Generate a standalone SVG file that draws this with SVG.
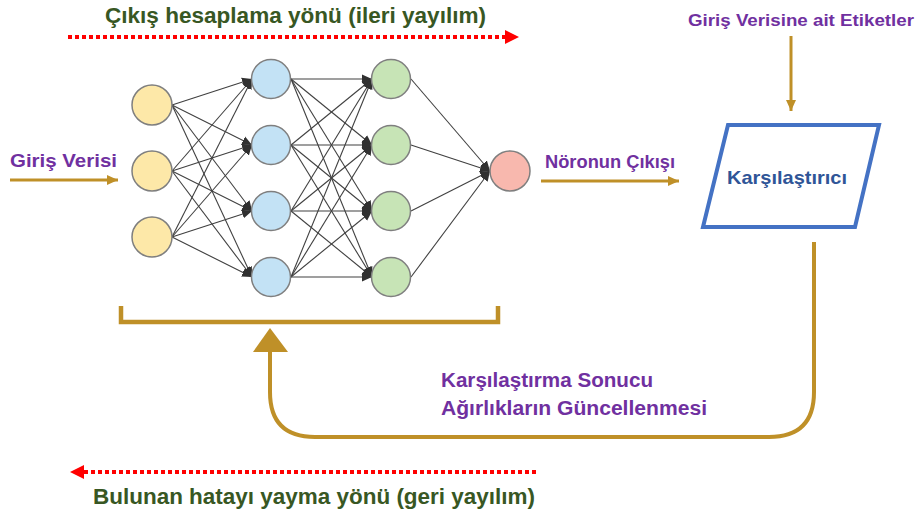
<svg xmlns="http://www.w3.org/2000/svg" width="916" height="513" viewBox="0 0 916 513">
<style>
.t{font-family:"Liberation Sans",Arial,sans-serif;font-weight:bold;}
.g{fill:#385723;}
.p{fill:#7030A0;}
.n{stroke:#7f7f7f;stroke-width:1.5;}
.in{fill:#FDE8A8;}
.h1{fill:#C3E2F5;}
.h2{fill:#C7E4B6;}
.out{fill:#F8B8AE;}
.c line{stroke:#404040;stroke-width:1.1;fill:none;marker-end:url(#ah);}
.gold{stroke:#BF9028;stroke-width:3;fill:none;}
.dot{stroke:#FF0000;stroke-width:4;stroke-dasharray:4 3;fill:none;}
</style>
<defs>
<marker id="ah" markerUnits="userSpaceOnUse" markerWidth="12" markerHeight="12" refX="10" refY="6" orient="auto">
<path d="M0,1.5 L10,6 L0,10.5 Z" fill="#303030"/>
</marker>
<marker id="ga" markerUnits="userSpaceOnUse" markerWidth="12" markerHeight="12" refX="11" refY="6" orient="auto">
<path d="M0,1 L11,6 L0,11 Z" fill="#BF9028"/>
</marker>
</defs>
<rect width="916" height="513" fill="#ffffff"/>

<g id="connectors">
<g class="c">
<line x1="172" y1="105" x2="252" y2="79"/><line x1="172" y1="105" x2="252" y2="145"/><line x1="172" y1="105" x2="252" y2="211"/><line x1="172" y1="105" x2="252" y2="277"/>
<line x1="172" y1="171" x2="252" y2="79"/><line x1="172" y1="171" x2="252" y2="145"/><line x1="172" y1="171" x2="252" y2="211"/><line x1="172" y1="171" x2="252" y2="277"/>
<line x1="172" y1="237" x2="252" y2="79"/><line x1="172" y1="237" x2="252" y2="145"/><line x1="172" y1="237" x2="252" y2="211"/><line x1="172" y1="237" x2="252" y2="277"/>
<line x1="291" y1="79" x2="372" y2="79"/><line x1="291" y1="79" x2="372" y2="145"/><line x1="291" y1="79" x2="372" y2="211"/><line x1="291" y1="79" x2="372" y2="277"/>
<line x1="291" y1="145" x2="372" y2="79"/><line x1="291" y1="145" x2="372" y2="145"/><line x1="291" y1="145" x2="372" y2="211"/><line x1="291" y1="145" x2="372" y2="277"/>
<line x1="291" y1="211" x2="372" y2="79"/><line x1="291" y1="211" x2="372" y2="145"/><line x1="291" y1="211" x2="372" y2="211"/><line x1="291" y1="211" x2="372" y2="277"/>
<line x1="291" y1="277" x2="372" y2="79"/><line x1="291" y1="277" x2="372" y2="145"/><line x1="291" y1="277" x2="372" y2="211"/><line x1="291" y1="277" x2="372" y2="277"/>
<line x1="411" y1="79" x2="490" y2="171"/><line x1="411" y1="145" x2="490" y2="171"/><line x1="411" y1="211" x2="490" y2="171"/><line x1="411" y1="277" x2="490" y2="171"/>
</g>
<line class="gold" x1="10" y1="180" x2="118" y2="180" marker-end="url(#ga)"/>
<line class="gold" x1="541" y1="181" x2="679" y2="181" marker-end="url(#ga)"/>
<line class="gold" x1="791" y1="36" x2="791" y2="111" marker-end="url(#ga)"/>
<path d="M121,306 V322 H498 V306" stroke="#BF9028" stroke-width="4.5" fill="none"/>
<path d="M814,242 V392 Q814,437 769,437 H315 Q270,437 270,392 V349" stroke="#BF9028" stroke-width="4" fill="none"/>
<polygon points="253,352 288,352 270,328" fill="#BF9028"/>
<line class="dot" x1="68" y1="37" x2="506" y2="37"/>
<polygon points="505,30 519,37 505,44" fill="#FF0000"/>
<line class="dot" x1="536" y1="472" x2="83" y2="472"/>
<polygon points="84,465 70,472 84,479" fill="#FF0000"/>
</g>

<g id="in1"><circle class="n in" cx="152" cy="105" r="20"/></g>
<g id="in2"><circle class="n in" cx="152" cy="171" r="20"/></g>
<g id="in3"><circle class="n in" cx="152" cy="237" r="20"/></g>
<g id="h1a"><circle class="n h1" cx="271" cy="79" r="19.5"/></g>
<g id="h1b"><circle class="n h1" cx="271" cy="145" r="19.5"/></g>
<g id="h1c"><circle class="n h1" cx="271" cy="211" r="19.5"/></g>
<g id="h1d"><circle class="n h1" cx="271" cy="277" r="19.5"/></g>
<g id="h2a"><circle class="n h2" cx="391" cy="79" r="19.5"/></g>
<g id="h2b"><circle class="n h2" cx="391" cy="145" r="19.5"/></g>
<g id="h2c"><circle class="n h2" cx="391" cy="211" r="19.5"/></g>
<g id="h2d"><circle class="n h2" cx="391" cy="277" r="19.5"/></g>
<g id="out"><circle class="n out" cx="510" cy="171" r="20"/></g>

<g id="comparator">
<polygon points="728,125 879,125 855,227 703,227" fill="#ffffff" stroke="#4472C4" stroke-width="4"/>
<text class="t" x="787" y="184" font-size="19" fill="#2F5597" text-anchor="middle" textLength="120" lengthAdjust="spacingAndGlyphs">Karşılaştırıcı</text>
</g>

<g id="labels">
<text class="t g" x="105" y="23" font-size="22" textLength="381" lengthAdjust="spacingAndGlyphs">Çıkış hesaplama yönü (ileri yayılım)</text>
<text class="t p" x="10" y="167" font-size="19" textLength="107" lengthAdjust="spacingAndGlyphs">Giriş Verisi</text>
<text class="t p" x="545" y="168" font-size="18" textLength="130" lengthAdjust="spacingAndGlyphs">Nöronun Çıkışı</text>
<text class="t p" x="688" y="26" font-size="17" textLength="226" lengthAdjust="spacingAndGlyphs">Giriş Verisine ait Etiketler</text>
<text class="t p" x="441" y="387" font-size="20" textLength="212" lengthAdjust="spacingAndGlyphs">Karşılaştırma Sonucu</text>
<text class="t p" x="441" y="415" font-size="20" textLength="266" lengthAdjust="spacingAndGlyphs">Ağırlıkların Güncellenmesi</text>
<text class="t g" x="93" y="504" font-size="22" textLength="442" lengthAdjust="spacingAndGlyphs">Bulunan hatayı yayma yönü (geri yayılım)</text>
</g>
</svg>
